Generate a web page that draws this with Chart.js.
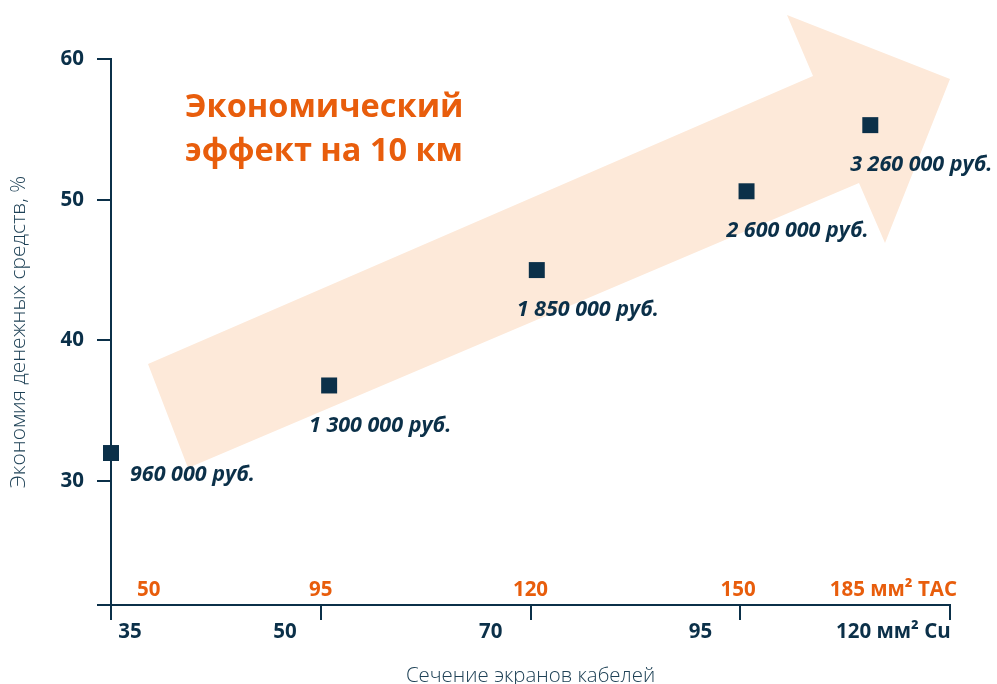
<!DOCTYPE html>
<html>
<head>
<meta charset="utf-8">
<script src="https://cdn.jsdelivr.net/npm/chart.js@4.4.0/dist/chart.umd.min.js"></script>
<style>
  html, body { margin: 0; padding: 0; background: #fff; }
  #wrap { width: 997px; height: 684px; }
</style>
</head>
<body>
<div id="wrap"><canvas id="chart"></canvas></div>
<script>
// position of each cable on the x axis (0 = 35 Cu / 50 TAC ... 4 = 120 Cu / 185 TAC)
const sections = [0, 1.04, 2.03, 3.03, 3.62];
const savings = [32, 36.8, 45, 50.6, 55.3];
const priceLabels = ['960 000 руб.', '1 300 000 руб.', '1 850 000 руб.', '2 600 000 руб.', '3 260 000 руб.'];

const yTicks = [30, 40, 50, 60];
const xMarks = [0, 1, 2, 3, 4];
const cuLabels = ['35', '50', '70', '95', '120 мм² Cu'];
const cuLabelPos = [0.09, 0.83, 1.81, 2.81, 3.73];
const tacLabels = ['50', '95', '120', '150', '185 мм² TAC'];
const tacLabelPos = [0.18, 1.0, 2.0, 2.99, 3.73];

const navy = '#0b3049';
const orange = '#e85d0c';
const peach = '#fde9d9';
const fontFamily = "'Open Sans', 'DejaVu Sans', sans-serif";
const yMin = 21.2;

// big light arrow behind the points + the orange heading
const backdropPlugin = {
    id: 'backdrop',
    beforeDatasetsDraw(chart) {
        const ctx = chart.ctx;
        const arrow = [[148, 364], [813, 76], [787, 15], [950, 79], [885, 243], [859, 183], [188, 468]];
        ctx.save();
        ctx.fillStyle = peach;
        ctx.beginPath();
        arrow.forEach((p, i) => i ? ctx.lineTo(p[0], p[1]) : ctx.moveTo(p[0], p[1]));
        ctx.closePath();
        ctx.fill();

        ctx.fillStyle = orange;
        ctx.font = 'bold 32.5px ' + fontFamily;
        ctx.textAlign = 'left';
        ctx.textBaseline = 'alphabetic';
        ctx.fillText('Экономический', 185, 117);
        ctx.fillText('эффект на 10 км', 185, 161);
        ctx.restore();
    }
};

// price under every point
const priceLabelPlugin = {
    id: 'priceLabels',
    afterDatasetsDraw(chart) {
        const ctx = chart.ctx;
        const meta = chart.getDatasetMeta(0);
        ctx.save();
        ctx.fillStyle = navy;
        ctx.font = 'italic bold 21.5px ' + fontFamily;
        ctx.textBaseline = 'middle';
        meta.data.forEach((pt, i) => {
            if (i === 0) {
                ctx.textAlign = 'left';
                ctx.fillText(priceLabels[i], pt.x + 19, pt.y + 22);
            } else {
                ctx.textAlign = 'center';
                ctx.fillText(priceLabels[i], pt.x + 51, pt.y + 40);
            }
        });
        ctx.restore();
    }
};

new Chart(document.getElementById('chart'), {
    type: 'scatter',
    data: {
        datasets: [{
            data: sections.map((x, i) => ({ x: x, y: savings[i] })),
            pointStyle: 'rect',
            pointRadius: 11.3,
            pointHoverRadius: 11.3,
            pointBorderWidth: 0,
            backgroundColor: navy,
            borderColor: navy,
            clip: false
        }]
    },
    options: {
        responsive: true,
        maintainAspectRatio: false,
        animation: false,
        events: [],
        layout: { padding: { left: 0, right: 47, top: 59, bottom: 0 } },
        plugins: {
            legend: { display: false },
            tooltip: { enabled: false }
        },
        scales: {
            x: {
                type: 'linear',
                position: 'bottom',
                min: 0,
                max: 4,
                afterBuildTicks: scale => {
                    scale.ticks = xMarks.concat(cuLabelPos).sort((a, b) => a - b).map(v => ({ value: v }));
                },
                afterFit: scale => { scale.height = 79; },
                ticks: {
                    autoSkip: false,
                    maxRotation: 0,
                    padding: 0,
                    color: navy,
                    font: { family: fontFamily, size: 20.5, weight: 'bold' },
                    callback: value => {
                        const i = cuLabelPos.indexOf(value);
                        return i >= 0 ? cuLabels[i] : '';
                    }
                },
                grid: {
                    drawOnChartArea: false,
                    tickLength: 15,
                    lineWidth: 2,
                    tickColor: ctx => (ctx.tick && xMarks.includes(ctx.tick.value)) ? navy : 'rgba(0,0,0,0)'
                },
                border: { color: navy, width: 2 },
                title: {
                    display: true,
                    text: 'Сечение экранов кабелей',
                    color: '#1e4156',
                    font: { family: fontFamily, size: 20.4, weight: 300 },
                    padding: { top: 0, bottom: -4 }
                }
            },
            x2: {
                type: 'linear',
                axis: 'x',
                position: { y: yMin },
                min: 0,
                max: 4,
                afterBuildTicks: scale => {
                    scale.ticks = tacLabelPos.map(v => ({ value: v }));
                },
                ticks: {
                    autoSkip: false,
                    maxRotation: 0,
                    padding: -35,
                    color: orange,
                    font: { family: fontFamily, size: 20.5, weight: 'bold' },
                    callback: value => tacLabels[tacLabelPos.indexOf(value)]
                },
                grid: { display: false },
                border: { display: false }
            },
            y: {
                type: 'linear',
                min: yMin,
                max: 60,
                afterBuildTicks: scale => {
                    scale.ticks = [yMin].concat(yTicks).map(v => ({ value: v }));
                },
                afterFit: scale => { scale.width = 111; },
                ticks: {
                    autoSkip: false,
                    padding: 13,
                    color: navy,
                    font: { family: fontFamily, size: 20.5, weight: 'bold' },
                    callback: value => yTicks.includes(value) ? value : ''
                },
                grid: {
                    drawOnChartArea: false,
                    tickLength: 14,
                    lineWidth: 2,
                    tickColor: navy
                },
                border: { color: navy, width: 2 },
                title: {
                    display: true,
                    text: 'Экономия денежных средств, %',
                    color: '#1e4156',
                    font: { family: fontFamily, size: 21, weight: 300 },
                    padding: { top: 6, bottom: 0 }
                }
            }
        }
    },
    plugins: [backdropPlugin, priceLabelPlugin]
});
</script>
</body>
</html>
